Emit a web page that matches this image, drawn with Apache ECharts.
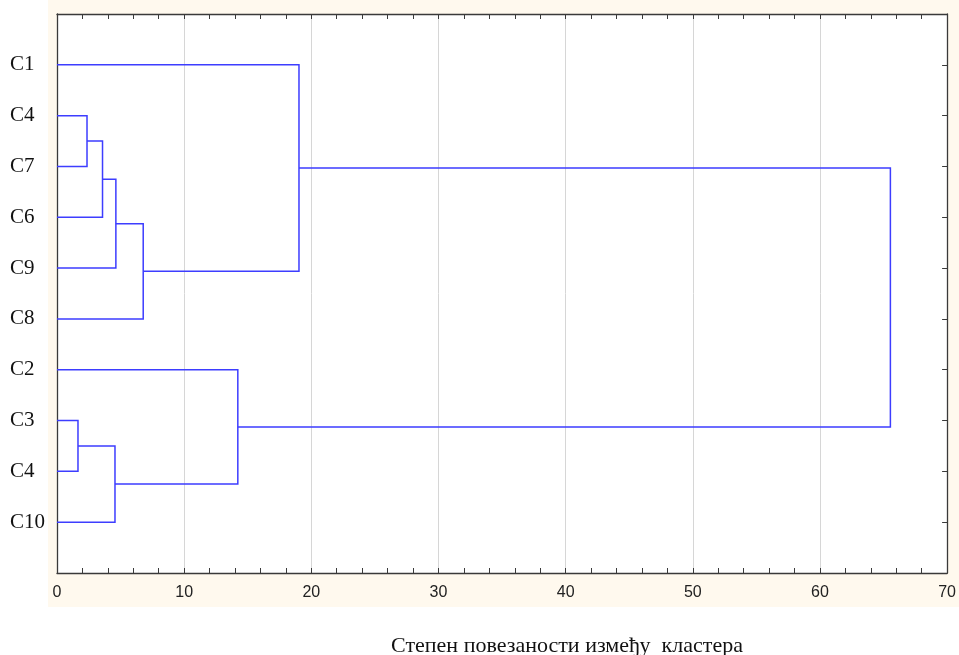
<!DOCTYPE html>
<html>
<head>
<meta charset="utf-8">
<script src="https://cdn.jsdelivr.net/npm/echarts@6/dist/echarts.min.js"></script>
<style>
html, body { margin: 0; padding: 0; background: #ffffff; }
#chart { width: 959px; height: 655px; }
</style>
</head>
<body>
<div id="chart"></div>
<script>
// Leaf labels, top to bottom
const leaves = ['C1', 'C4', 'C7', 'C6', 'C9', 'C8', 'C2', 'C3', 'C4', 'C10'];
// Linkage steps: node ids 0..9 are leaves, each merge creates node 10, 11, ...
const mergeLeft = [1, 10, 11, 12, 0, 7, 15, 6, 14];
const mergeRight = [2, 3, 4, 5, 13, 8, 9, 16, 17];
const mergeHeight = [2.36, 3.58, 4.63, 6.78, 19.03, 1.65, 4.56, 14.22, 65.54];
const axisTitle = 'Степен повезаности између  кластера';

// Node positions: leaves sit at 1..n, merged nodes at the mean of their children
const nodeY = leaves.map((_, i) => i + 1);
const nodeH = leaves.map(() => 0);
const links = [];
mergeHeight.forEach((h, i) => {
  const a = mergeLeft[i], b = mergeRight[i];
  links.push([nodeY[a], nodeH[a], nodeY[b], nodeH[b], h]);
  nodeY.push((nodeY[a] + nodeY[b]) / 2);
  nodeH.push(h);
});

const frame = { show: true, onZero: false, lineStyle: { color: '#3a3a3a', width: 1.3 } };
const tickStyle = { color: '#3a3a3a', width: 1 };

const chart = echarts.init(document.getElementById('chart'));
chart.setOption({
  animation: false,
  graphic: [
    {
      type: 'rect', z: -100, silent: true,
      shape: { x: 48, y: 0, width: 911, height: 607 },
      style: { fill: '#fff9ee' }
    },
    {
      type: 'text', x: 567, y: 646, silent: true,
      style: {
        text: axisTitle, align: 'center', verticalAlign: 'middle',
        fontFamily: 'Liberation Serif', fontSize: 22, fill: '#111111'
      }
    }
  ],
  grid: {
    left: 57, right: 11, top: 14, bottom: 82,
    show: true, backgroundColor: '#ffffff', borderWidth: 0
  },
  xAxis: [
    {
      type: 'value', min: 0, max: 70, interval: 10, position: 'bottom',
      axisLine: frame,
      axisTick: { show: true, inside: true, length: 5, lineStyle: tickStyle },
      minorTick: { show: true, splitNumber: 5, length: 5, lineStyle: tickStyle },
      splitLine: { show: true, lineStyle: { color: '#d6d6d6', width: 1 } },
      axisLabel: { fontFamily: 'Liberation Sans', fontSize: 16, color: '#222222', margin: 12 }
    },
    {
      type: 'value', min: 0, max: 70, interval: 10, position: 'top',
      axisLine: frame,
      axisTick: { show: true, inside: true, length: 5, lineStyle: tickStyle },
      minorTick: { show: true, splitNumber: 5, length: 5, lineStyle: tickStyle },
      splitLine: { show: false },
      axisLabel: { show: false }
    }
  ],
  yAxis: [
    {
      type: 'value', min: 0, max: leaves.length + 1, interval: 1, inverse: true, position: 'left',
      axisLine: frame,
      axisTick: { show: false },
      splitLine: { show: false },
      axisLabel: {
        formatter: v => leaves[v - 1] || '',
        align: 'left', margin: 47,
        fontFamily: 'Liberation Serif', fontSize: 21, color: '#111111'
      }
    },
    {
      type: 'value', min: 0, max: leaves.length + 1, interval: 1, inverse: true, position: 'right',
      axisLine: frame,
      axisTick: { show: true, inside: true, length: 5, lineStyle: tickStyle },
      splitLine: { show: false },
      axisLabel: { show: false }
    }
  ],
  series: [{
    type: 'custom',
    xAxisIndex: 0,
    yAxisIndex: 0,
    silent: true,
    data: links,
    encode: { x: [1, 3, 4], y: [0, 2] },
    renderItem: (params, api) => {
      const pts = [
        [api.value(1), api.value(0)],
        [api.value(4), api.value(0)],
        [api.value(4), api.value(2)],
        [api.value(3), api.value(2)]
      ].map(c => api.coord(c));
      return {
        type: 'polyline',
        shape: { points: pts },
        style: { stroke: '#3d3dff', lineWidth: 1.5, fill: 'none' }
      };
    }
  }]
});
</script>
</body>
</html>
